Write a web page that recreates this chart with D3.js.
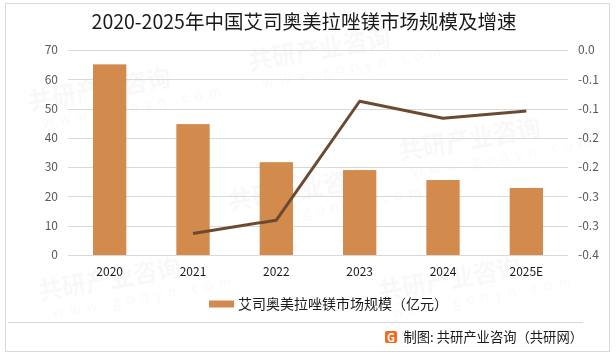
<!DOCTYPE html>
<html><head><meta charset="utf-8">
<script src="https://cdn.jsdelivr.net/npm/d3@7"></script>
<style>body{margin:0;background:#fff}svg{display:block}</style>
</head><body>
<svg id="c" width="616" height="360"></svg>
<script>
const categories = ["2020","2021","2022","2023","2024","2025E"];
const marketSize = [65.1, 44.7, 31.7, 29.0, 25.6, 22.9];
const growthCats = ["2021","2022","2023","2024","2025E"];
const growthRate = [-0.358, -0.332, -0.100, -0.133, -0.119];
const leftTicks = [0,10,20,30,40,50,60,70];
const rightTickLabels = ["-0.4","-0.3","-0.3","-0.2","-0.2","-0.1","-0.1","0.0"];
const title = "2020-2025年中国艾司奥美拉唑镁市场规模及增速";
const legendLabel = "艾司奥美拉唑镁市场规模（亿元）";
const sourceLabel = "制图: 共研产业咨询（共研网）";

const font = "'Noto Sans CJK SC','Microsoft YaHei',sans-serif";
const svg = d3.select("#c");
const m = {l:68, r:568, t:50, b:255};

// faint watermarks (kept inside the canvas)
const wm = svg.append("g").attr("fill","#000").attr("opacity",0.03).attr("font-family",font).attr("font-weight","bold");
const wmPos = [[30,110],[250,70],[230,210],[400,160],[40,300],[380,300]];
wmPos.forEach(([x,y])=>{
  const g = wm.append("g").attr("transform",`translate(${x},${y}) rotate(-10)`);
  g.append("text").attr("font-size",24).text("共研产业咨询");
  g.append("text").attr("y",20).attr("x",10).attr("font-size",14).attr("font-weight","normal").attr("letter-spacing",6).text("www.gonyn.com");
});

// border
svg.append("rect").attr("x",5.5).attr("y",3.5).attr("width",604).attr("height",348)
  .attr("fill","none").attr("stroke","#d9d9d9");
svg.append("line").attr("x1",8).attr("x2",583).attr("y1",322.5).attr("y2",322.5).attr("stroke","#d9d9d9");

// title
svg.append("text").attr("x",304).attr("y",29).attr("text-anchor","middle")
  .attr("font-family",font).attr("font-size",19.5).attr("fill","#1a1a1a").text(title);

const x = d3.scaleBand().domain(categories).range([m.l,m.r]).paddingInner(0.6).paddingOuter(0.3);
const yL = d3.scaleLinear().domain([0,70]).range([m.b,m.t]);
const yR = d3.scaleLinear().domain([-0.4,0]).range([m.b,m.t]);

// gridlines
svg.append("g").selectAll("line").data(leftTicks).join("line")
  .attr("x1",m.l).attr("x2",m.r).attr("y1",d=>Math.round(yL(d))+0.5).attr("y2",d=>Math.round(yL(d))+0.5)
  .attr("stroke","#d9d9d9").attr("stroke-width",1);

// left axis
const axL = d3.axisLeft(yL).tickValues(leftTicks).tickSize(0).tickPadding(10);
const gL = svg.append("g").attr("transform",`translate(${m.l},0)`).call(axL);
gL.select(".domain").remove();
gL.selectAll("text").attr("font-family",font).attr("font-size",12).attr("fill","#595959");

// right axis
const rTicks = d3.range(8).map(i=>-0.4+i*0.4/7);
const axR = d3.axisRight(yR).tickValues(rTicks).tickSize(0).tickPadding(10)
  .tickFormat((d,i)=>rightTickLabels[i]);
const gR = svg.append("g").attr("transform",`translate(${m.r},0)`).call(axR);
gR.select(".domain").remove();
gR.selectAll("text").attr("font-family",font).attr("font-size",12).attr("fill","#595959");

// bars
svg.append("g").selectAll("rect").data(marketSize).join("rect")
  .attr("x",(d,i)=>x(categories[i])).attr("width",x.bandwidth())
  .attr("y",d=>yL(d)).attr("height",d=>yL(0)-yL(d)).attr("fill","#D38B4D");

// x axis labels
const axB = d3.axisBottom(x).tickSize(0).tickPadding(12);
const gB = svg.append("g").attr("transform",`translate(0,${m.b})`).call(axB);
gB.select(".domain").remove();
gB.selectAll("text").attr("font-family",font).attr("font-size",12).attr("fill","#1a1a1a");

// line
const line = d3.line().x((d,i)=>x(growthCats[i])+x.bandwidth()/2).y(d=>yR(d));
svg.append("path").datum(growthRate).attr("d",line).attr("fill","none")
  .attr("stroke","#6B4A32").attr("stroke-width",3).attr("stroke-linejoin","round");

// legend
svg.append("rect").attr("x",209).attr("y",300.5).attr("width",25).attr("height",7).attr("fill","#D38B4D");
svg.append("text").attr("x",238).attr("y",309).attr("font-family",font).attr("font-size",14)
  .attr("fill","#1a1a1a").text(legendLabel);

// source
const ic = svg.append("g").attr("transform","translate(385,331)");
ic.append("rect").attr("width",12).attr("height",12).attr("rx",2).attr("fill","#F26B21");
ic.append("text").attr("x",6).attr("y",10.5).attr("text-anchor","middle").attr("font-family",font)
  .attr("font-size",11).attr("font-weight","bold").attr("fill","#fff").text("G");
svg.append("text").attr("x",583).attr("y",342).attr("text-anchor","end").attr("font-family",font).attr("font-size",13.3)
  .attr("fill","#1a1a1a").text(sourceLabel);
</script>
</body></html>
